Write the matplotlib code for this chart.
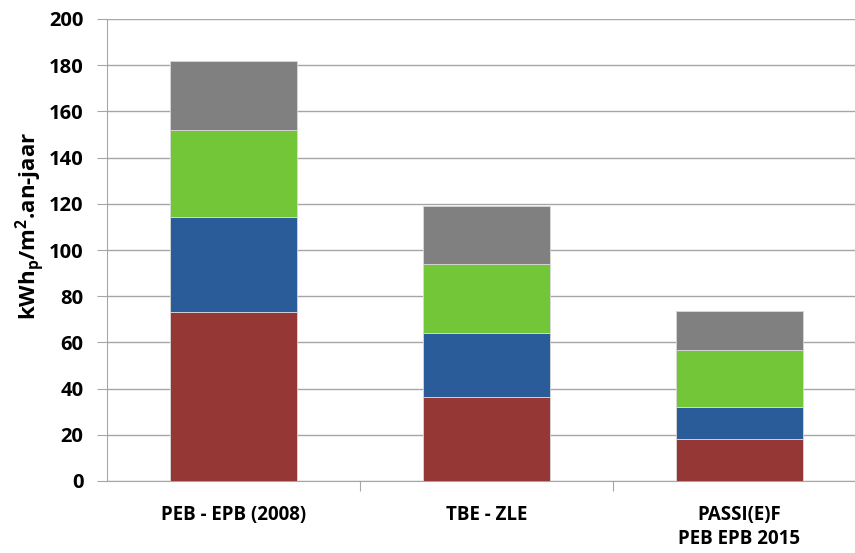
import numpy as np
import matplotlib.pyplot as plt

categories = ["PEB - EPB (2008)", "TBE - ZLE", "PASSI(E)F\nPEB EPB 2015"]
seg_red = [73.3, 36.5, 18.2]
seg_blue = [41.0, 27.5, 13.8]
seg_green = [37.7, 30.0, 24.8]
seg_gray = [30.0, 25.0, 16.9]
colors = ["#953735", "#2A5C9A", "#72C638", "#808080"]

plt.rcParams['font.family'] = ['Open Sans', 'DejaVu Sans']
plt.rcParams['mathtext.fontset'] = 'custom'
plt.rcParams['mathtext.rm'] = 'Open Sans:bold'
plt.rcParams['mathtext.bf'] = 'Open Sans:bold'

fig = plt.figure(figsize=(8.55, 5.53), dpi=100)
ax = fig.add_axes([107/855, 1-481/553, 759/855, 462/553])

x = np.arange(len(categories))
bottom = np.zeros(len(categories))
for vals, c in zip([seg_red, seg_blue, seg_green, seg_gray], colors):
    ax.bar(x, vals, width=0.5, bottom=bottom, color=c, edgecolor='#d9d9d9', linewidth=0.6, zorder=3)
    bottom += np.array(vals)

ax.set_xlim(-0.5, 2.5)
ax.set_ylim(0, 200)
ax.set_yticks(np.arange(0, 201, 20))
ax.yaxis.grid(True, color='#a6a6a6', linewidth=1.0, zorder=0)
for s in ['top', 'right']:
    ax.spines[s].set_visible(False)
for s in ['left', 'bottom']:
    ax.spines[s].set_color('#a6a6a6')
ax.tick_params(axis='y', length=7, color='#a6a6a6', labelsize=14.5, pad=10)
ax.set_xticks([0.5, 1.5])
ax.set_xticklabels([])
ax.tick_params(axis='x', which='major', length=7, color='#a6a6a6')
ax.set_xticks(x, minor=True)
ax.set_xticklabels(categories, minor=True, fontsize=13.5, fontweight='bold', linespacing=1.3)
ax.tick_params(axis='x', which='minor', length=0, pad=17)
for lab in ax.get_yticklabels():
    lab.set_fontweight('bold')

fig.text(30/855, 1-226/553, r"kWh$_\mathrm{p}$/m$^\mathrm{2}$.an-jaar", rotation=90,
         ha='center', va='center', fontsize=16, fontweight='bold')

fig.savefig("out.png", dpi=100)
